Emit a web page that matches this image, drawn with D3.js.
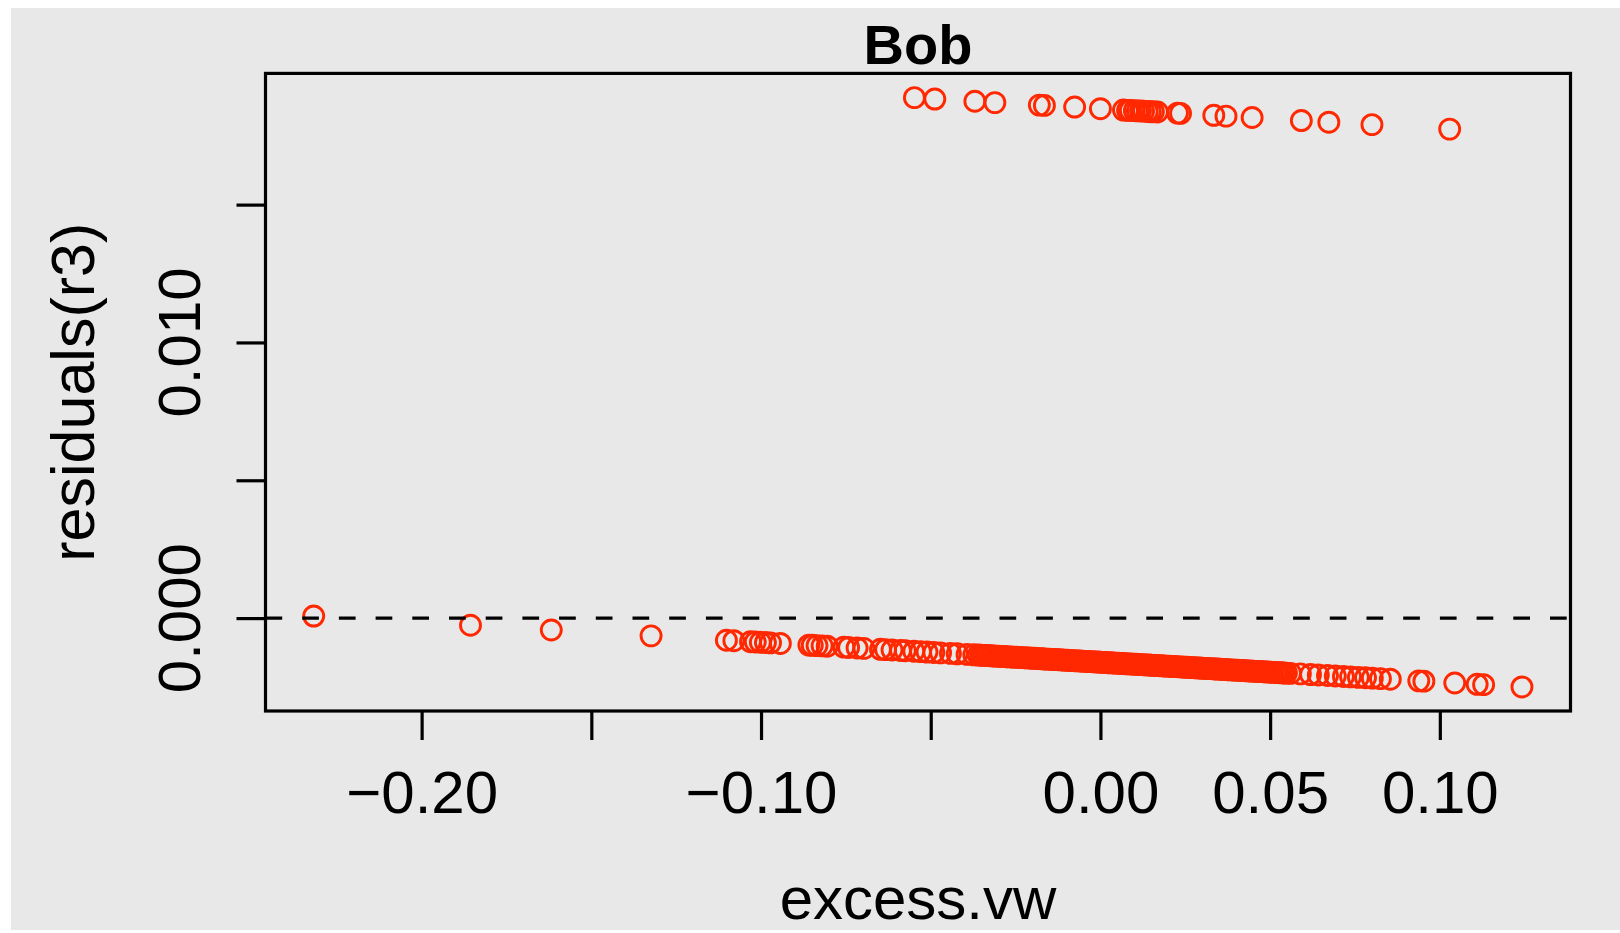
<!DOCTYPE html>
<html>
<head>
<meta charset="utf-8">
<script src="https://cdn.jsdelivr.net/npm/d3@7"></script>
<style>
  html, body { margin: 0; padding: 0; background: #ffffff; }
  svg { display: block; }
</style>
</head>
<body>
<svg id="chart" width="1620" height="933"></svg>
<script>
// ---- data ----
const title = "Bob";
const xLabel = "excess.vw";
const yLabel = "residuals(r3)";

const xTicks = [-0.20, -0.15, -0.10, -0.05, 0.00, 0.05, 0.10];
const xTickLabels = ["\u22120.20", "", "\u22120.10", "", "0.00", "0.05", "0.10"];
const yTicks = [0.000, 0.005, 0.010, 0.015];
const yTickLabels = ["0.000", "", "0.010", ""];

// upper cluster of residuals
const upperX = [-0.0548, -0.0488, -0.0370, -0.0311, -0.0180, -0.0165, -0.0076, 0.0000,
  0.0068, 0.0080, 0.0088, 0.0100, 0.0109, 0.0118, 0.0127, 0.0138, 0.0147, 0.0156, 0.0168,
  0.0227, 0.0236, 0.0334, 0.0370, 0.0447, 0.0592, 0.0673, 0.0800, 0.1029];
const upperY = [0.01888, 0.01883, 0.01875, 0.01870, 0.01861, 0.01860, 0.01854, 0.01848,
  0.01843, 0.01842, 0.01842, 0.01841, 0.01840, 0.01840, 0.01839, 0.01838, 0.01837, 0.01837, 0.01836,
  0.01832, 0.01831, 0.01824, 0.01821, 0.01816, 0.01805, 0.01799, 0.01790, 0.01774];

// lower band of residuals
const lowerX = [
  -0.2318, -0.1856, -0.1618, -0.1324,
  -0.1102, -0.1080, -0.1031, -0.1017, -0.1002, -0.0987, -0.0972, -0.0943,
  -0.0859, -0.0849, -0.0835, -0.0820, -0.0805, -0.0756, -0.0742, -0.0717, -0.0697,
  -0.0648, -0.0633, -0.0614, -0.0589, -0.0575, -0.0550, -0.0530, -0.0511, -0.0491,
  -0.0471, -0.0442, -0.0422, -0.0393, -0.0373,
  -0.0360, -0.0352, -0.0345, -0.0337, -0.0330, -0.0322, -0.0315, -0.0307, -0.0300, -0.0292,
  -0.0285, -0.0277, -0.0270, -0.0262, -0.0255, -0.0247, -0.0240, -0.0232, -0.0225, -0.0217,
  -0.0210, -0.0202, -0.0195, -0.0187, -0.0180, -0.0172, -0.0165, -0.0157, -0.0150, -0.0142,
  -0.0135, -0.0127, -0.0120, -0.0112, -0.0105, -0.0097, -0.0090, -0.0082, -0.0075, -0.0067,
  -0.0060, -0.0052, -0.0045, -0.0037, -0.0030, -0.0022, -0.0015, -0.0007, 0.0000, 0.0008,
  0.0015, 0.0023, 0.0030, 0.0038, 0.0045, 0.0053, 0.0060, 0.0068, 0.0075, 0.0083,
  0.0090, 0.0098, 0.0105, 0.0113, 0.0120, 0.0128, 0.0135, 0.0143, 0.0150, 0.0158,
  0.0165, 0.0173, 0.0180, 0.0188, 0.0195, 0.0203, 0.0210, 0.0218, 0.0225, 0.0233,
  0.0240, 0.0248, 0.0255, 0.0263, 0.0270, 0.0278, 0.0285, 0.0293, 0.0300, 0.0308,
  0.0315, 0.0323, 0.0330, 0.0338, 0.0345, 0.0353, 0.0360, 0.0368, 0.0375, 0.0383,
  0.0390, 0.0398, 0.0405, 0.0413, 0.0420, 0.0428, 0.0435, 0.0443, 0.0450, 0.0458,
  0.0465, 0.0473, 0.0480, 0.0488, 0.0495, 0.0503, 0.0510, 0.0518, 0.0525, 0.0533,
  0.0540, 0.0548,
  0.0560, 0.0589, 0.0619, 0.0642, 0.0669, 0.0692, 0.0716, 0.0737, 0.0760, 0.0781,
  0.0801, 0.0825, 0.0854, 0.0938, 0.0953, 0.1044, 0.1110, 0.1129, 0.1242
];
const lowerY = [
  0.000074, -0.000260, -0.000432, -0.000644,
  -0.000804, -0.000820, -0.000856, -0.000866, -0.000877, -0.000887, -0.000898, -0.000919,
  -0.000980, -0.000987, -0.000997, -0.001008, -0.001019, -0.001054, -0.001064, -0.001082, -0.001097,
  -0.001132, -0.001143, -0.001157, -0.001175, -0.001185, -0.001203, -0.001217, -0.001231, -0.001246,
  -0.001260, -0.001281, -0.001295, -0.001316, -0.001331,
  -0.001340, -0.001346, -0.001351, -0.001357, -0.001362, -0.001368, -0.001373, -0.001378, -0.001383, -0.001389,
  -0.001394, -0.001400, -0.001405, -0.001411, -0.001416, -0.001422, -0.001427, -0.001432, -0.001438, -0.001443,
  -0.001448, -0.001454, -0.001459, -0.001465, -0.001470, -0.001476, -0.001481, -0.001487, -0.001492, -0.001497,
  -0.001503, -0.001508, -0.001513, -0.001519, -0.001524, -0.001530, -0.001535, -0.001541, -0.001546, -0.001552,
  -0.001557, -0.001562, -0.001568, -0.001573, -0.001578, -0.001584, -0.001589, -0.001595, -0.001600, -0.001606,
  -0.001611, -0.001617, -0.001622, -0.001627, -0.001632, -0.001638, -0.001643, -0.001649, -0.001654, -0.001660,
  -0.001665, -0.001671, -0.001676, -0.001682, -0.001687, -0.001692, -0.001697, -0.001703, -0.001708, -0.001714,
  -0.001719, -0.001725, -0.001730, -0.001736, -0.001741, -0.001747, -0.001752, -0.001757, -0.001762, -0.001768,
  -0.001773, -0.001779, -0.001784, -0.001790, -0.001795, -0.001801, -0.001806, -0.001812, -0.001817, -0.001822,
  -0.001827, -0.001833, -0.001838, -0.001844, -0.001849, -0.001855, -0.001860, -0.001866, -0.001871, -0.001877,
  -0.001882, -0.001887, -0.001892, -0.001898, -0.001903, -0.001909, -0.001914, -0.001920, -0.001925, -0.001931,
  -0.001936, -0.001942, -0.001947, -0.001952, -0.001957, -0.001963, -0.001968, -0.001974, -0.001979, -0.001985,
  -0.001990, -0.001996,
  -0.002004, -0.002025, -0.002047, -0.002064, -0.002083, -0.002100, -0.002117, -0.002132, -0.002149, -0.002164,
  -0.002178, -0.002196, -0.002217, -0.002277, -0.002288, -0.002354, -0.002401, -0.002415, -0.002497
];

const refLineY = 0; // dashed horizontal reference

// ---- drawing ----
const W = 1620, H = 933;
const plot = { left: 265.5, right: 1570.5, top: 73.4, bottom: 711 };
const pointColor = "rgb(255,40,0)";
const fontFam = "'Liberation Sans', Arial, Helvetica, sans-serif";

const svg = d3.select("#chart");

svg.append("rect").attr("x", 11).attr("y", 8)
  .attr("width", W - 11).attr("height", 922)
  .attr("fill", "#e8e8e8");

const x = d3.scaleLinear().domain([-0.2460, 0.1385]).range([plot.left, plot.right]);
const y = d3.scaleLinear().domain([-0.00337, 0.01976]).range([plot.bottom, plot.top]);

// points
const points = upperX.map((v, i) => ({ x: v, y: upperY[i] }))
  .concat(lowerX.map((v, i) => ({ x: v, y: lowerY[i] })));

svg.append("g").selectAll("circle").data(points).join("circle")
  .attr("cx", d => x(d.x)).attr("cy", d => y(d.y))
  .attr("r", 10)
  .attr("fill", "none")
  .attr("stroke", pointColor)
  .attr("stroke-width", 2.9);

// dashed reference line
svg.append("line")
  .attr("x1", plot.left).attr("x2", plot.right)
  .attr("y1", y(refLineY)).attr("y2", y(refLineY))
  .attr("stroke", "#000").attr("stroke-width", 3.3)
  .attr("stroke-dasharray", "16.7 20");

// box
svg.append("rect")
  .attr("x", plot.left).attr("y", plot.top)
  .attr("width", plot.right - plot.left).attr("height", plot.bottom - plot.top)
  .attr("fill", "none").attr("stroke", "#000").attr("stroke-width", 3.2);

// x axis
const xAxis = d3.axisBottom(x)
  .tickValues(xTicks)
  .tickSize(29)
  .tickPadding(30)
  .tickFormat((d, i) => xTickLabels[i]);
const gx = svg.append("g").attr("transform", `translate(0,${plot.bottom})`).call(xAxis);
gx.select(".domain").remove();
gx.selectAll(".tick line").attr("stroke", "#000").attr("stroke-width", 3.2);
gx.selectAll(".tick text")
  .attr("fill", "#000")
  .style("font-family", fontFam)
  .style("font-size", "60px");

// y axis
const yAxis = d3.axisLeft(y)
  .tickValues(yTicks)
  .tickSize(29)
  .tickFormat("");
const gy = svg.append("g").attr("transform", `translate(${plot.left},0)`).call(yAxis);
gy.select(".domain").remove();
gy.selectAll(".tick line").attr("stroke", "#000").attr("stroke-width", 3.2);

// rotated y tick labels
svg.append("g").selectAll("text")
  .data(yTicks.map((v, i) => ({ v, label: yTickLabels[i] })).filter(d => d.label !== ""))
  .join("text")
  .attr("transform", d => `translate(200,${y(d.v)}) rotate(-90)`)
  .attr("text-anchor", "middle")
  .style("font-family", fontFam)
  .style("font-size", "60px")
  .attr("fill", "#000")
  .text(d => d.label);

// title
svg.append("text")
  .attr("x", (plot.left + plot.right) / 2).attr("y", 64)
  .attr("text-anchor", "middle")
  .style("font-family", fontFam)
  .style("font-size", "56px")
  .style("font-weight", "bold")
  .attr("fill", "#000")
  .text(title);

// x label
svg.append("text")
  .attr("x", (plot.left + plot.right) / 2).attr("y", 919)
  .attr("text-anchor", "middle")
  .style("font-family", fontFam)
  .style("font-size", "60px")
  .attr("fill", "#000")
  .text(xLabel);

// y label
svg.append("text")
  .attr("transform", `translate(94,${(plot.top + plot.bottom) / 2}) rotate(-90)`)
  .attr("text-anchor", "middle")
  .style("font-family", fontFam)
  .style("font-size", "61px")
  .attr("fill", "#000")
  .text(yLabel);
</script>
</body>
</html>
